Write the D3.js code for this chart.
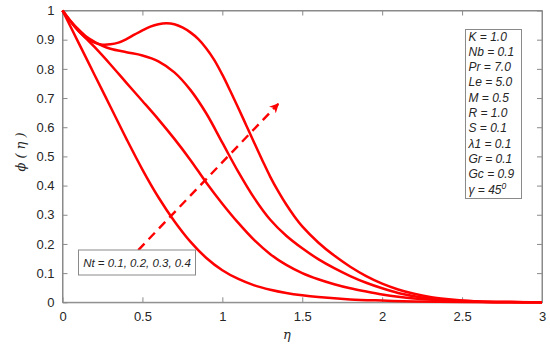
<!DOCTYPE html>
<html>
<head>
<meta charset="utf-8">
<script src="https://cdn.jsdelivr.net/npm/d3@7"></script>
<style>
  html, body { margin: 0; padding: 0; background: #fff; }
  svg { display: block; }
</style>
</head>
<body>
<svg id="chart" width="550" height="347"></svg>
<script>
// ---- data ----
const xTicks = [0, 0.5, 1, 1.5, 2, 2.5, 3];
const xTickLabels = ["0", "0.5", "1", "1.5", "2", "2.5", "3"];
const yTicks = [0, 0.1, 0.2, 0.3, 0.4, 0.5, 0.6, 0.7, 0.8, 0.9, 1];
const yTickLabels = ["0", "0.1", "0.2", "0.3", "0.4", "0.5", "0.6", "0.7", "0.8", "0.9", "1"];
const seriesNames = ["Nt = 0.1", "Nt = 0.2", "Nt = 0.3", "Nt = 0.4"];

const etaNt1 = [0, 0.1, 0.2, 0.3, 0.4, 0.5, 0.6, 0.7, 0.8, 0.9, 1.0, 1.1, 1.2, 1.3, 1.4, 1.5, 1.6, 1.8, 2.0, 2.2, 2.5, 3.0];
const phiNt1 = [1, 0.89, 0.78, 0.67, 0.56, 0.455, 0.36, 0.278, 0.208, 0.152, 0.11, 0.08, 0.058, 0.043, 0.032, 0.024, 0.018, 0.01, 0.006, 0.003, 0.001, 0];

const etaNt2 = [0, 0.05, 0.1, 0.15, 0.2, 0.3, 0.4, 0.5, 0.6, 0.7, 0.8, 0.9, 1.0, 1.1, 1.2, 1.3, 1.4, 1.5, 1.6, 1.7, 1.8, 1.9, 2.0, 2.1, 2.2, 2.4, 2.6, 3.0];
const phiNt2 = [1, 0.963, 0.93, 0.903, 0.875, 0.815, 0.752, 0.69, 0.627, 0.56, 0.488, 0.41, 0.338, 0.272, 0.213, 0.165, 0.128, 0.1, 0.079, 0.062, 0.048, 0.037, 0.027, 0.019, 0.013, 0.006, 0.002, 0];

const etaNt3 = [0, 0.05, 0.1, 0.15, 0.2, 0.25, 0.3, 0.4, 0.5, 0.6, 0.7, 0.8, 0.9, 1.0, 1.1, 1.2, 1.3, 1.4, 1.5, 1.6, 1.7, 1.8, 1.9, 2.0, 2.1, 2.2, 2.3, 2.4, 2.6, 2.8, 3.0];
const phiNt3 = [1, 0.965, 0.935, 0.91, 0.893, 0.879, 0.869, 0.857, 0.846, 0.826, 0.788, 0.728, 0.647, 0.547, 0.447, 0.357, 0.283, 0.228, 0.185, 0.148, 0.117, 0.09, 0.067, 0.048, 0.032, 0.021, 0.013, 0.008, 0.003, 0.001, 0];

const etaNt4 = [0, 0.05, 0.1, 0.15, 0.2, 0.25, 0.3, 0.35, 0.4, 0.45, 0.5, 0.55, 0.6, 0.65, 0.7, 0.75, 0.8, 0.85, 0.9, 0.95, 1.0, 1.05, 1.1, 1.15, 1.2, 1.25, 1.3, 1.35, 1.4, 1.45, 1.5, 1.6, 1.7, 1.8, 1.9, 2.0, 2.1, 2.2, 2.3, 2.4, 2.5, 2.6, 2.8, 3.0];
const phiNt4 = [1, 0.962, 0.93, 0.905, 0.89, 0.883, 0.884, 0.89, 0.902, 0.917, 0.932, 0.945, 0.953, 0.956, 0.953, 0.942, 0.925, 0.902, 0.87, 0.83, 0.78, 0.724, 0.666, 0.606, 0.546, 0.487, 0.43, 0.38, 0.335, 0.295, 0.26, 0.205, 0.16, 0.122, 0.09, 0.064, 0.044, 0.029, 0.018, 0.011, 0.006, 0.003, 0.001, 0];

const arrowFrom = [0.474, 0.179];
const arrowTo = [1.35, 0.68];
const ntLabel = "Nt = 0.1, 0.2, 0.3, 0.4";
const paramLines = ["K = 1.0", "Nb = 0.1", "Pr = 7.0", "Le = 5.0", "M = 0.5", "R = 1.0", "S = 0.1", "λ1 = 0.1", "Gr = 0.1", "Gc = 0.9"];

// ---- layout ----
const svg = d3.select("#chart");
const mLeft = 62.5, mRight = 542, mTop = 10.5, mBottom = 302.3;
const x = d3.scaleLinear().domain([0, 3]).range([mLeft, mRight]);
const y = d3.scaleLinear().domain([0, 1]).range([mBottom, mTop]);
const axisColor = "#8a8a8a";
const textColor = "#262626";
const font = "Liberation Sans, Arial, Helvetica, sans-serif";

// box
svg.append("rect").attr("x", mLeft).attr("y", mTop).attr("width", mRight - mLeft).attr("height", mBottom - mTop)
  .attr("fill", "none").attr("stroke", axisColor).attr("stroke-width", 1);

// axes
const xAxis = d3.axisBottom(x).tickValues(xTicks).tickFormat((d, i) => xTickLabels[i]).tickSizeInner(-5).tickSizeOuter(0).tickPadding(9);
const gx = svg.append("g").attr("transform", `translate(0,${mBottom})`).call(xAxis);
const xAxisTop = d3.axisTop(x).tickValues(xTicks).tickFormat("").tickSizeInner(-5).tickSizeOuter(0);
const gxt = svg.append("g").attr("transform", `translate(0,${mTop})`).call(xAxisTop);
const yAxis = d3.axisLeft(y).tickValues(yTicks).tickFormat((d, i) => yTickLabels[i]).tickSizeInner(-5).tickSizeOuter(0).tickPadding(8);
const gy = svg.append("g").attr("transform", `translate(${mLeft},0)`).call(yAxis);
const yAxisRight = d3.axisRight(y).tickValues(yTicks).tickFormat("").tickSizeInner(-5).tickSizeOuter(0);
const gyr = svg.append("g").attr("transform", `translate(${mRight},0)`).call(yAxisRight);
[gx, gxt, gy, gyr].forEach(g => {
  g.select(".domain").attr("stroke", axisColor);
  g.selectAll(".tick line").attr("stroke", axisColor);
  g.selectAll(".tick text").attr("fill", textColor).attr("font-size", 13).attr("font-family", font);
});

// curves
const etas = [etaNt1, etaNt2, etaNt3, etaNt4];
const phis = [phiNt1, phiNt2, phiNt3, phiNt4];
const line = d3.line().x(d => x(d[0])).y(d => y(d[1])).curve(d3.curveCatmullRom.alpha(0.5));
seriesNames.forEach((name, k) => {
  const pts = etas[k].map((e, i) => [e, phis[k][i]]);
  svg.append("path").datum(pts).attr("d", line).attr("fill", "none")
    .attr("stroke", "#ff0000").attr("stroke-width", 2.5).attr("stroke-linejoin", "round");
});

// dashed arrow
const defs = svg.append("defs");
defs.append("marker").attr("id", "ah").attr("viewBox", "0 0 10 10").attr("refX", 9).attr("refY", 5)
  .attr("markerWidth", 4).attr("markerHeight", 4).attr("orient", "auto").attr("markerUnits", "strokeWidth")
  .append("path").attr("d", "M0,0 L10,5 L0,10 L3,5 Z").attr("fill", "#ff0000");
svg.append("line")
  .attr("x1", x(arrowFrom[0])).attr("y1", y(arrowFrom[1]))
  .attr("x2", x(arrowTo[0])).attr("y2", y(arrowTo[1]))
  .attr("stroke", "#ff0000").attr("stroke-width", 2.4).attr("stroke-dasharray", "9,6")
  .attr("marker-end", "url(#ah)");

// Nt label box
const nb = svg.append("g");
nb.append("rect").attr("x", 78.5).attr("y", 250).attr("width", 117).attr("height", 25)
  .attr("fill", "#fff").attr("stroke", axisColor).attr("stroke-width", 1);
nb.append("text").attr("x", 137).attr("y", 267).attr("text-anchor", "middle")
  .attr("font-family", font).attr("font-style", "italic").attr("font-size", 11.5).attr("fill", textColor)
  .text(ntLabel);

// parameter box
const pb = svg.append("g");
pb.append("rect").attr("x", 465.5).attr("y", 29.5).attr("width", 56).attr("height", 169)
  .attr("fill", "#fff").attr("stroke", axisColor).attr("stroke-width", 1);
paramLines.forEach((t, i) => {
  pb.append("text").attr("x", 468.5).attr("y", 40.5 + i * 15.3)
    .attr("font-family", font).attr("font-style", "italic").attr("font-size", 12).attr("fill", textColor)
    .text(t);
});
const gt = pb.append("text").attr("x", 468.5).attr("y", 40.5 + 10 * 15.3)
  .attr("font-family", font).attr("font-style", "italic").attr("font-size", 12).attr("fill", textColor);
gt.append("tspan").text("γ = 45");
gt.append("tspan").attr("dy", -5).attr("font-size", 8.5).text("0");

// axis labels
svg.append("text").attr("x", 287).attr("y", 339).attr("text-anchor", "middle")
  .attr("font-family", "DejaVu Serif, serif").attr("font-style", "italic").attr("font-size", 13).attr("fill", textColor)
  .text("η");
svg.append("text").attr("transform", "translate(25,152) rotate(-90)").attr("text-anchor", "middle")
  .attr("font-family", "DejaVu Serif, serif").attr("font-style", "italic").attr("font-size", 13).attr("fill", textColor)
  .attr("xml:space", "preserve")
  .text("ϕ ( η )");
</script>
</body>
</html>
